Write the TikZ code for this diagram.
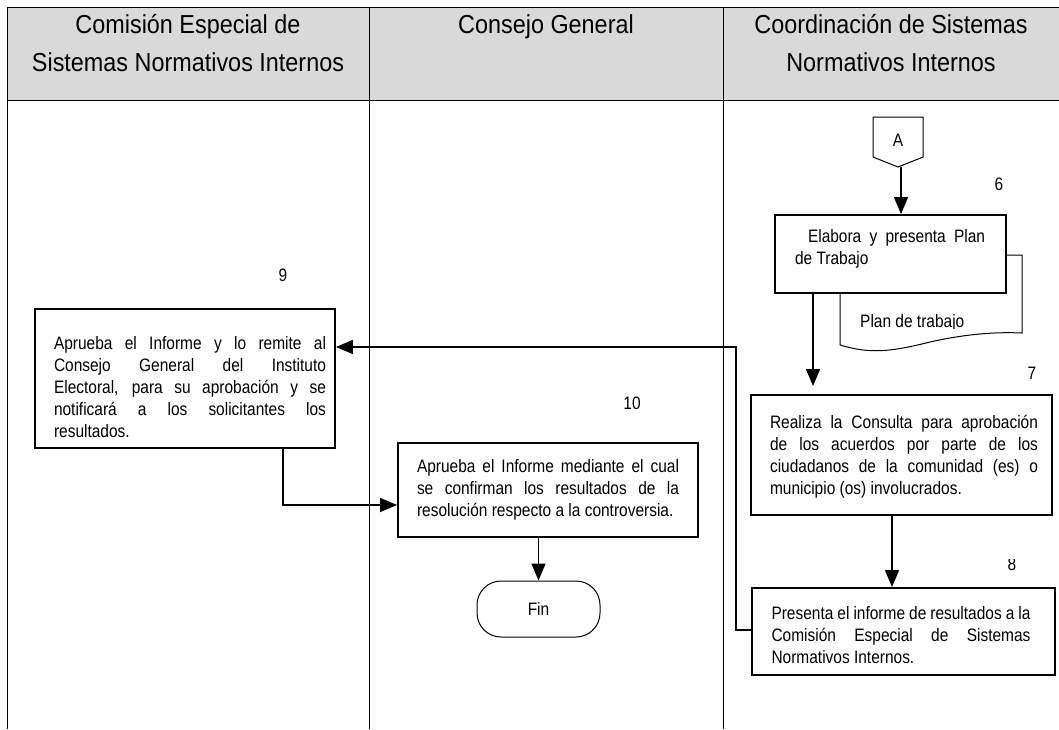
\documentclass[tikz,border=0pt]{standalone}
\usepackage{fontspec}
\setmainfont{Liberation Sans}
\newfontfamily\bodyfont[FakeStretch=0.86]{Liberation Sans}
\newfontfamily\headfont[FakeStretch=0.9]{Liberation Sans}
\usetikzlibrary{arrows.meta,shapes.misc}
\definecolor{hdrgray}{HTML}{D9D9D9}
\newcommand{\jline}[2]{\makebox[#1][s]{#2}}
\tikzset{
  lane/.style={line width=0.9pt, draw=black},
  procbox/.style={draw=black, line width=1.9pt, fill=white, inner sep=0pt},
  boxtext/.style={font=\bodyfont\fontsize{18}{22}\selectfont, align=left, inner sep=0pt},
  hdrtext/.style={font=\headfont\fontsize{26}{38}\selectfont, align=center, inner sep=0pt, anchor=north},
  numtext/.style={font=\bodyfont\fontsize{18}{20}\selectfont, inner sep=0pt},
  conn/.style={line width=1.4pt, draw=black},
  arr/.style={conn, -{Triangle[length=17pt,width=14pt]}},
  thin/.style={line width=1pt, draw=black}
}
\begin{document}
\begin{tikzpicture}[x=1pt,y=-1pt]
\useasboundingbox (0,0) rectangle (1059,729);
% header
\fill[hdrgray] (7,7) rectangle (1059,100);
\draw[lane] (7,7) -- (1059,7);
\draw[lane] (7,100) -- (1059,100);
\draw[lane] (7,7) -- (7,729);
\draw[lane] (369,7) -- (369,729);
\draw[lane] (723,7) -- (723,729);
\node[hdrtext] (h1) at (188,14) {Comisión Especial de\\Sistemas Normativos Internos};
\node[hdrtext] (h2) at (546,14) {Consejo General};
\node[hdrtext] (h3) at (891,14) {Coordinación de Sistemas\\Normativos Internos};

% off-page connector A
\draw[thin] (873,117) -- (923,117) -- (923,157) -- (898,167) -- (873,157) -- cycle;
\node[font=\bodyfont\fontsize{18}{20}\selectfont, inner sep=0pt] (A) at (898,140) {A};
\coordinate (Aout) at (901,167);

% box 6
\node[procbox, minimum width=231pt, minimum height=78pt] (b6) at (890.5,254) {};
\node[boxtext] (t6) at (890,249) {\jline{190pt}{\hspace*{13pt}Elabora y presenta Plan}\\\mbox{de Trabajo}};
\node[numtext] (n6) at (999,184) {6};

% document shape
\draw[thin] (1006,255) -- (1022,255) -- (1022,333)
  .. controls (1000,332) and (970,333) .. (930,342)
  .. controls (890,352) and (870,354) .. (840,345) -- (840,294);
\begin{scope}
\clip (840,300) rectangle (1022,328);
\node[font=\bodyfont\fontsize{18}{20}\selectfont, inner sep=0pt, anchor=base west] (doc) at (860,327) {Plan de trabajo};
\end{scope}

% box 7
\node[procbox, minimum width=301pt, minimum height=120pt] (b7) at (901.5,455) {};
\node[boxtext] (t7) at (904,456.5) {\jline{268pt}{Realiza la Consulta para aprobación}\\\jline{268pt}{de los acuerdos por parte de los}\\\jline{268pt}{ciudadanos de la comunidad (es) o}\\\mbox{municipio (os) involucrados.}};
\node[numtext] (n7) at (1032,373) {7};

% box 8
\node[procbox, minimum width=303pt, minimum height=87pt] (b8) at (903.5,631.5) {};
\node[boxtext] (t8) at (901,635) {\jline{259pt}{Presenta el informe de resultados a la}\\\jline{259pt}{Comisión Especial de Sistemas}\\\mbox{Normativos Internos.}};
\begin{scope}
\clip (990,559.5) rectangle (1030,580);
\node[numtext] (n8) at (1012,564) {8};
\end{scope}

% box 9
\node[procbox, minimum width=300pt, minimum height=139pt] (b9) at (185,378.5) {};
\node[boxtext] (t9) at (190,387.5) {\jline{272pt}{Aprueba el Informe y lo remite al}\\\jline{272pt}{Consejo General del Instituto}\\\jline{272pt}{Electoral, para su aprobación y se}\\\jline{272pt}{notificará a los solicitantes los}\\\mbox{resultados.}};
\node[numtext] (n9) at (283,275) {9};

% box 10
\node[procbox, minimum width=300pt, minimum height=94pt] (b10) at (548,490) {};
\node[boxtext] (t10) at (548,490) {\jline{262pt}{Aprueba el Informe mediante el cual}\\\jline{262pt}{se confirman los resultados de la}\\\mbox{resolución respecto a la controversia.}};
\node[numtext] (n10) at (632,403) {10};

% Fin
\node[draw=black, line width=1pt, rectangle, rounded corners=24pt, minimum width=123pt, minimum height=56pt, inner sep=0pt, font=\bodyfont\fontsize{18}{20}\selectfont] (fin) at (538.5,609) {Fin};

% connectors
\draw[arr] (Aout) -- (Aout |- b6.north);
\draw[arr, shorten >=8pt] ([xshift=-77.5pt]b6.south) -- ([xshift=-77.5pt]b6.south |- b7.north);
\draw[arr] ([xshift=-9.5pt]b7.south) -- ([xshift=-9.5pt]b7.south |- b8.north);
\draw[arr] ([yshift=1.5pt]b8.west) -- ++(-15,0) |- ([yshift=31.5pt]b9.east);
\draw[arr] ([xshift=98pt]b9.south) |- ([yshift=-15pt]b10.west);
\draw[arr] (fin.north |- b10.south) -- (fin.north);
\end{tikzpicture}
\end{document}
